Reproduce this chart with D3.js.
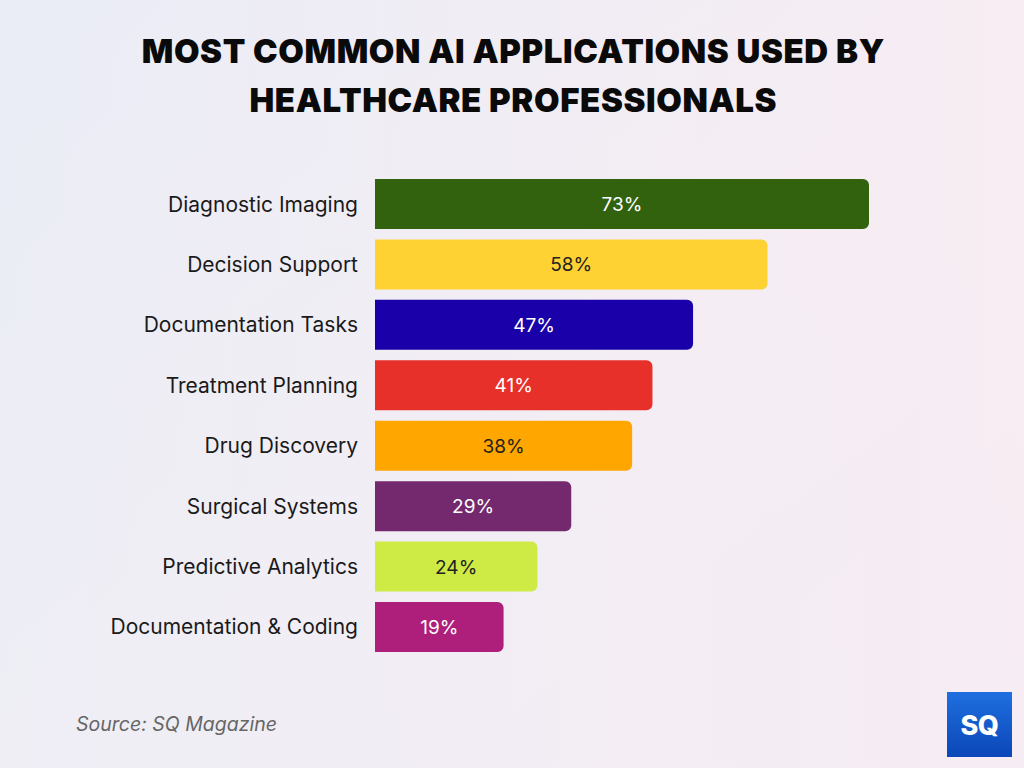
<!DOCTYPE html>
<html>
<head>
<meta charset="utf-8">
<script src="https://cdn.jsdelivr.net/npm/d3@7"></script>
<style>
  html, body { margin: 0; padding: 0; }
  body { width: 1024px; height: 768px; overflow: hidden; }
</style>
</head>
<body>
<svg id="chart" width="1024" height="768"></svg>
<script>
const categories = ["Diagnostic Imaging", "Decision Support", "Documentation Tasks", "Treatment Planning", "Drug Discovery", "Surgical Systems", "Predictive Analytics", "Documentation & Coding"];
const values = [73, 58, 47, 41, 38, 29, 24, 19];
const barColors = ["#33620f", "#ffd233", "#1a00a8", "#e8302a", "#ffa600", "#74296f", "#cdea45", "#ad1f7a"];
const labelColors = ["#ffffff", "#222222", "#ffffff", "#ffffff", "#222222", "#ffffff", "#222222", "#ffffff"];
const titleLines = ["MOST COMMON AI APPLICATIONS USED BY", "HEALTHCARE PROFESSIONALS"];
const sourceText = "Source: SQ Magazine";

const svg = d3.select("#chart");
const defs = svg.append("defs");
const bg = defs.append("linearGradient").attr("id", "bg").attr("x1", "0").attr("y1", "0").attr("x2", "1").attr("y2", "1");
bg.append("stop").attr("offset", "0").attr("stop-color", "#eaedf6");
bg.append("stop").attr("offset", "0.5").attr("stop-color", "#f5eff4");
bg.append("stop").attr("offset", "1").attr("stop-color", "#f4eef5");
const bg2 = defs.append("linearGradient").attr("id", "bg2").attr("x1", "0").attr("y1", "0").attr("x2", "1").attr("y2", "0");
bg2.append("stop").attr("offset", "0").attr("stop-color", "#eaedf6").attr("stop-opacity", 0.6);
bg2.append("stop").attr("offset", "1").attr("stop-color", "#f8ebf2").attr("stop-opacity", 0.6);
svg.append("rect").attr("width", 1024).attr("height", 768).attr("fill", "url(#bg)");
svg.append("rect").attr("width", 1024).attr("height", 768).attr("fill", "url(#bg2)");

// Title
svg.append("g").selectAll("text").data(titleLines).join("text")
  .attr("x", 513.3).attr("y", (d, i) => 63 + i * 49)
  .attr("text-anchor", "middle")
  .attr("font-family", "Inter, 'Noto Sans', sans-serif")
  .attr("font-weight", 900).attr("font-size", 33)
  .attr("letter-spacing", 0.6)
  .attr("fill", "#0a0a0a")
  .text(d => d);

const x = d3.scaleLinear().domain([0, 73]).range([375, 869]);
const y = d3.scaleBand().domain(categories).range([173.8, 657.2]).paddingInner(0.1726).paddingOuter(0.0863);

function barPath(x0, y0, w, h, r) {
  const p = d3.path();
  p.moveTo(x0, y0);
  p.lineTo(x0 + w - r, y0);
  p.arcTo(x0 + w, y0, x0 + w, y0 + r, r);
  p.lineTo(x0 + w, y0 + h - r);
  p.arcTo(x0 + w, y0 + h, x0 + w - r, y0 + h, r);
  p.lineTo(x0, y0 + h);
  p.closePath();
  return p.toString();
}

const data = categories.map((c, i) => ({ c, v: values[i], color: barColors[i], lc: labelColors[i] }));

const g = svg.append("g");
g.selectAll("path.bar").data(data).join("path")
  .attr("class", "bar")
  .attr("d", d => barPath(x(0), y(d.c), x(d.v) - x(0), y.bandwidth(), 6))
  .attr("fill", d => d.color);

g.selectAll("text.val").data(data).join("text")
  .attr("class", "val")
  .attr("x", d => (x(0) + x(d.v)) / 2)
  .attr("y", d => y(d.c) + y.bandwidth() / 2 + 7)
  .attr("text-anchor", "middle")
  .attr("font-family", "Inter, 'Noto Sans', sans-serif")
  .attr("font-size", 19)
  .attr("fill", d => d.lc)
  .text(d => d.v + "%");

g.selectAll("text.cat").data(data).join("text")
  .attr("class", "cat")
  .attr("x", 358)
  .attr("y", d => y(d.c) + y.bandwidth() / 2 + 7.5)
  .attr("text-anchor", "end")
  .attr("font-family", "Inter, 'Noto Sans', sans-serif")
  .attr("font-size", 21)
  .attr("fill", "#1a1a1a")
  .text(d => d.c);

// Source
svg.append("text").attr("x", 76).attr("y", 731)
  .attr("font-family", "Inter, 'Noto Sans', sans-serif")
  .attr("font-style", "italic").attr("font-size", 19.5)
  .attr("fill", "#666666").text(sourceText);

// Logo
const lg = defs.append("linearGradient").attr("id", "logo").attr("x1", "0").attr("y1", "0").attr("x2", "0").attr("y2", "1");
lg.append("stop").attr("offset", "0").attr("stop-color", "#1f6fe0");
lg.append("stop").attr("offset", "1").attr("stop-color", "#0b47b8");
svg.append("rect").attr("x", 947).attr("y", 692).attr("width", 65).attr("height", 65).attr("fill", "url(#logo)");
svg.append("text").attr("x", 979.5).attr("y", 735).attr("text-anchor", "middle")
  .attr("font-family", "Inter, sans-serif").attr("font-weight", 800).attr("font-size", 27)
  .attr("fill", "#ffffff").attr("letter-spacing", -0.5).text("SQ");
</script>
</body>
</html>
